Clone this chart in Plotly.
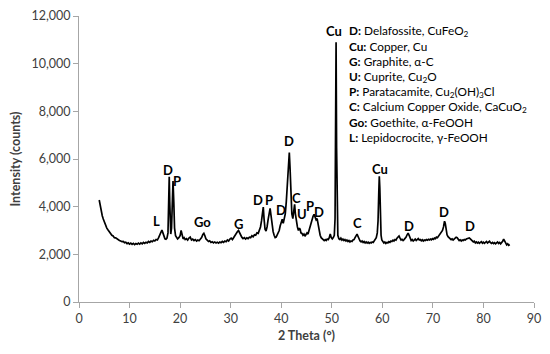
import plotly.graph_objects as go

# ---- XRD pattern ----
two_theta = [
    4.0, 4.2, 4.4, 4.6, 4.8, 5.0, 5.25, 5.5, 5.75, 6.0, 6.25, 6.5, 6.75, 7.0, 7.25, 7.5, 7.75, 8.0,
    8.25, 8.5, 8.75, 9.0, 9.25, 9.5, 9.75, 10.0, 10.25, 10.5, 10.75, 11.0, 11.25, 11.5, 11.75, 12.0,
    12.25, 12.5, 12.75, 13.0, 13.25, 13.5, 13.75, 14.0, 14.25, 14.5, 14.75, 15.0, 15.25, 15.5, 15.75,
    16.0, 16.2, 16.4, 16.6, 16.8, 17.0, 17.2, 17.4, 17.6, 17.75, 17.85, 17.95, 18.05, 18.15, 18.3,
    18.45, 18.6, 18.75, 18.9, 19.1, 19.3, 19.5, 19.75, 20.0, 20.2, 20.4, 20.6, 20.8, 21.0, 21.25,
    21.5, 21.75, 22.0, 22.25, 22.5, 22.75, 23.0, 23.25, 23.5, 23.75, 24.0, 24.25, 24.5, 24.7, 24.9,
    25.1, 25.35, 25.6, 25.85, 26.1, 26.35, 26.6, 26.85, 27.1, 27.35, 27.6, 27.85, 28.1, 28.35, 28.6,
    28.85, 29.1, 29.35, 29.6, 29.85, 30.1, 30.35, 30.6, 30.85, 31.1, 31.35, 31.55, 31.75, 31.95,
    32.2, 32.45, 32.7, 32.95, 33.2, 33.45, 33.7, 33.95, 34.2, 34.45, 34.7, 34.95, 35.2, 35.45, 35.7,
    35.9, 36.1, 36.3, 36.45, 36.6, 36.8, 37.0, 37.2, 37.4, 37.6, 37.8, 38.0, 38.2, 38.4, 38.6, 38.8,
    39.0, 39.2, 39.4, 39.6, 39.8, 40.0, 40.2, 40.4, 40.6, 40.8, 41.0, 41.2, 41.4, 41.6, 41.75, 41.9,
    42.1, 42.3, 42.5, 42.65, 42.8, 43.0, 43.2, 43.4, 43.6, 43.75, 43.9, 44.1, 44.3, 44.5, 44.7, 44.9,
    45.1, 45.3, 45.5, 45.7, 45.9, 46.1, 46.3, 46.5, 46.7, 46.9, 47.1, 47.3, 47.5, 47.7, 47.9, 48.1,
    48.3, 48.5, 48.7, 48.9, 49.1, 49.3, 49.5, 49.7, 49.9, 50.1, 50.3, 50.5, 50.65, 50.75, 50.85,
    50.95, 51.05, 51.2, 51.4, 51.6, 51.8, 52.0, 52.2, 52.4, 52.6, 52.8, 53.0, 53.2, 53.4, 53.6, 53.8,
    54.0, 54.2, 54.4, 54.6, 54.8, 55.0, 55.2, 55.4, 55.6, 55.8, 56.0, 56.2, 56.4, 56.6, 56.8, 57.0,
    57.2, 57.4, 57.6, 57.8, 58.0, 58.2, 58.4, 58.6, 58.8, 59.0, 59.15, 59.3, 59.4, 59.5, 59.6, 59.75,
    59.9, 60.1, 60.3, 60.5, 60.7, 60.9, 61.1, 61.3, 61.5, 61.7, 61.9, 62.1, 62.3, 62.5, 62.7, 62.9,
    63.1, 63.3, 63.5, 63.7, 63.9, 64.1, 64.3, 64.5, 64.7, 64.9, 65.1, 65.3, 65.5, 65.7, 65.9, 66.1,
    66.3, 66.5, 66.7, 66.9, 67.1, 67.3, 67.5, 67.7, 67.9, 68.1, 68.3, 68.5, 68.7, 68.9, 69.1, 69.3,
    69.5, 69.7, 69.9, 70.1, 70.3, 70.5, 70.7, 70.9, 71.1, 71.3, 71.5, 71.7, 71.9, 72.1, 72.3, 72.45,
    72.6, 72.8, 73.0, 73.2, 73.4, 73.6, 73.8, 74.0, 74.2, 74.4, 74.6, 74.8, 75.0, 75.2, 75.4, 75.6,
    75.8, 76.0, 76.2, 76.4, 76.6, 76.8, 77.0, 77.2, 77.4, 77.6, 77.8, 78.0, 78.2, 78.4, 78.6, 78.8,
    79.0, 79.2, 79.4, 79.6, 79.8, 80.0, 80.2, 80.4, 80.6, 80.8, 81.0, 81.2, 81.4, 81.6, 81.8, 82.0,
    82.2, 82.4, 82.6, 82.8, 83.0, 83.2, 83.4, 83.6, 83.8, 84.0, 84.2, 84.4, 84.6, 84.8, 85.0, 85.2,
]
intensity = [
    4280, 4000, 3800, 3620, 3480, 3350, 3240, 3100, 3020, 2930, 2880, 2800, 2770, 2700, 2690, 2640, 2610, 2580,
    2560, 2530, 2540, 2490, 2510, 2450, 2480, 2430, 2470, 2420, 2460, 2410, 2450, 2420, 2470, 2430,
    2480, 2440, 2500, 2460, 2510, 2480, 2540, 2500, 2560, 2530, 2590, 2560, 2620, 2600, 2700,
    2820, 2980, 3020, 2900, 2720, 2650, 2630, 2680, 2900, 3900, 5250, 4200, 3000, 2850, 3100,
    4300, 5080, 4200, 3100, 2780, 2700, 2650, 2700, 2780, 3000, 2800, 2650, 2700, 2620, 2660,
    2600, 2680, 2720, 2600, 2640, 2580, 2620, 2560, 2600, 2570, 2640, 2700, 2830, 2880, 2780,
    2650, 2600, 2540, 2570, 2500, 2530, 2480, 2520, 2480, 2510, 2470, 2520, 2490, 2540, 2500,
    2560, 2530, 2600, 2560, 2640, 2680, 2620, 2720, 2780, 2880, 2960, 3000, 2900, 2800,
    2720, 2660, 2700, 2640, 2690, 2660, 2720, 2700, 2780, 2740, 2820, 2800, 2900, 2880, 3000,
    3150, 3400, 3950, 3980, 3500, 3050, 2980, 3150, 3450, 3800, 3930, 3600, 3200, 2950, 2800, 2700,
    2720, 2800, 2900, 3000, 3200, 3350, 3470, 3300, 3450, 3700, 4200, 4900, 5800, 6270, 5600, 4500,
    3700, 3500, 3900, 4100, 3700, 3300, 3150, 3000, 3100, 3050, 2900, 2880, 2800, 2850, 2760, 2830,
    2900, 2850, 3000, 3150, 3350, 3500, 3600, 3680, 3550, 3450, 3500, 3250, 3000, 2800, 2700, 2650,
    2620, 2580, 2620, 2580, 2640, 2620, 2700, 2850, 2700, 2650, 2700, 2800, 3500, 6000, 10900,
    6500, 3600, 2800, 2650, 2620, 2680, 2600, 2640, 2580, 2620, 2560, 2600, 2540, 2580, 2520, 2560,
    2540, 2600, 2620, 2700, 2820, 2850, 2750, 2620, 2560, 2520, 2560, 2500, 2540, 2480, 2520, 2470,
    2510, 2460, 2500, 2480, 2520, 2500, 2560, 2600, 2700, 2900, 3400, 4600, 5270, 4800, 3500, 2800,
    2600, 2520, 2480, 2520, 2460, 2500, 2480, 2530, 2500, 2560, 2540, 2590, 2560, 2620, 2600, 2680,
    2740, 2770, 2680, 2600, 2630, 2580, 2620, 2660, 2720, 2820, 2890, 2800, 2660, 2580, 2620, 2560,
    2600, 2640, 2580, 2620, 2660, 2600, 2620, 2570, 2610, 2560, 2600, 2580, 2620, 2590, 2630, 2600,
    2640, 2610, 2660, 2630, 2680, 2660, 2720, 2700, 2760, 2800, 2860, 2940, 3000, 3150, 3390, 3300,
    3000, 2820, 2740, 2700, 2660, 2620, 2650, 2600, 2640, 2680, 2720, 2700, 2620, 2580, 2610, 2560,
    2600, 2580, 2620, 2600, 2640, 2660, 2700, 2690, 2650, 2600, 2560, 2520, 2550, 2480, 2520, 2470,
    2510, 2460, 2500, 2530, 2470, 2510, 2460, 2500, 2540, 2480, 2510, 2550, 2490, 2460, 2500, 2450,
    2490, 2440, 2480, 2520, 2460, 2500, 2440, 2480, 2550, 2640, 2560, 2440, 2400, 2440, 2380, 2410,
]

# ---- peak labels ----
peak_labels = ["L", "D", "P", "Go", "G", "D", "P", "D", "D", "C", "U", "P", "D",
               "Cu", "C", "Cu", "D", "D", "D"]
peak_label_theta = [15.4, 17.6, 19.4, 24.5, 31.6, 35.4, 37.6, 40.0, 41.5, 43.1, 44.1, 45.7, 47.5,
                    50.4, 55.0, 59.5, 65.3, 72.2, 77.3]
peak_label_counts = [3390, 5520, 5060, 3340, 3260, 4260, 4260, 3850, 6770, 4350, 3680, 4010, 3760,
                     11370, 3300, 5600, 3180, 3760, 3180]

# ---- phase key ----
phase_codes = ["D", "Cu", "G", "U", "P", "C", "Go", "L"]
phase_names = ["Delafossite, CuFeO<sub>2</sub>", "Copper, Cu", "Graphite, α-C",
               "Cuprite, Cu<sub>2</sub>O", "Paratacamite, Cu<sub>2</sub>(OH)<sub>3</sub>Cl",
               "Calcium Copper Oxide, CaCuO<sub>2</sub>", "Goethite, α-FeOOH",
               "Lepidocrocite, γ-FeOOH"]

FONT = "Lato"
fig = go.Figure()
fig.add_trace(go.Scatter(x=two_theta, y=intensity, mode="lines",
                         line=dict(color="black", width=1.7), showlegend=False,
                         hoverinfo="skip"))

for t, x, y in zip(peak_labels, peak_label_theta, peak_label_counts):
    fig.add_annotation(x=x, y=y, text=f"<b>{t}</b>", showarrow=False,
                       xanchor="center", yanchor="middle",
                       font=dict(family=FONT, size=13, color="black"))

for i, (c, n) in enumerate(zip(phase_codes, phase_names)):
    fig.add_annotation(xref="paper", yref="paper", x=0.589, y=0.947 - i * 0.0533,
                       text=f"<b>{c}:</b> {n}", showarrow=False,
                       xanchor="left", yanchor="middle",
                       font=dict(family=FONT, size=11.8, color="black"))

axis_common = dict(showgrid=False, zeroline=False, showline=True, linecolor="#a6a6a6",
                   linewidth=1, ticks="outside", ticklen=5, tickcolor="#a6a6a6",
                   automargin=False, ticklabeloverflow="allow",
                   tickfont=dict(family=FONT, size=12.5, color="#404040"))

# the page body adds an 8px offset, so the figure is drawn 8px smaller
fig.update_layout(
    width=542, height=346,
    margin=dict(l=71, r=16, t=8, b=52),
    paper_bgcolor="white", plot_bgcolor="white",
    xaxis=dict(range=[0, 90], dtick=10, tick0=0,
               title=dict(text="<b>2 Theta (°)</b>", standoff=6,
                          font=dict(family=FONT, size=12.5, color="#404040")),
               **axis_common),
    yaxis=dict(range=[0, 12000], dtick=2000, tickformat=",",
               title=dict(text="<b>Intensity (counts)</b>", standoff=10,
                          font=dict(family=FONT, size=12.5, color="#404040")),
               **axis_common),
)

fig.write_html("out.html")
